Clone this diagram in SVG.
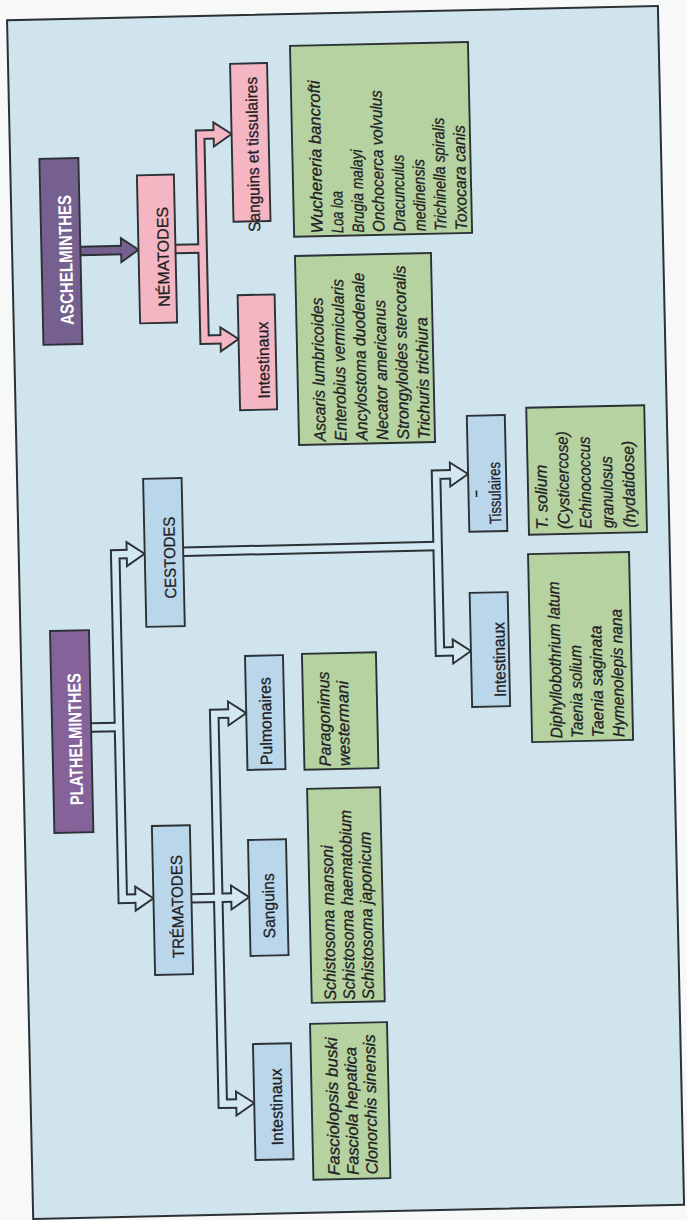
<svg xmlns="http://www.w3.org/2000/svg" width="687" height="1220" viewBox="0 0 687 1220">
<style>
.bx{stroke:#2b3134;stroke-width:1.9}
.pur1{fill:#76608f}.pur2{fill:#85639a}.pink{fill:#f4b6c3}.blue{fill:#bad6ea}.green{fill:#b6d2a1}
.t{font-family:"Liberation Sans",Arial,sans-serif;fill:#1f1f26;stroke:#1f1f26;stroke-width:0.3}
.h{font-size:16px;text-anchor:middle}
.hb{font-size:18.5px;font-weight:bold;fill:#ffffff;stroke:none;text-anchor:middle}
.l3{font-size:16.5px;text-anchor:middle}
.sp{font-size:16.5px;font-style:italic}
.po{fill:none;stroke:#2b3134;stroke-width:10.5;stroke-linejoin:miter}
.pib{fill:none;stroke:#d4e8f2;stroke-width:6.5;stroke-linejoin:miter}
.pip{fill:none;stroke:#f4b6c3;stroke-width:6.5;stroke-linejoin:miter}
.piv{fill:none;stroke:#76608f;stroke-width:6.5}
.hd{stroke:#2b3134;stroke-width:1.9;stroke-linejoin:miter}
.hdb{fill:#d4e8f2}
</style>
<rect x="0" y="0" width="687" height="1220" fill="#f7f8f8"/>
<g transform="rotate(-1.25 343 610)">
<rect id="frame" x="20" y="13" width="651" height="1199" fill="#d0e4ee" stroke="#2b3134" stroke-width="2"/>
<g id="connectors">
  <path class="po" d="M88.3 245.4 H132"/>
  <path class="po" d="M183.4 245.5 H210.5"/>
  <path class="po" d="M227 131.7 H210.5 V336.8 H229.5"/>
  <path class="po" d="M88.6 722 H116.5"/>
  <path class="po" d="M131 549.4 H116.5 V894 H132.2"/>
  <path class="po" d="M184.8 548.2 H439"/>
  <path class="po" d="M456 476.8 H439 V653.8 H455"/>
  <path class="po" d="M185.2 895 H228"/>
  <path class="po" d="M229 711 H212 V1101 H228.5"/>
  <polygon class="hd pur1" points="129,233.4 146.4,245.4 129,257.4"/>
  <polygon class="hd pink" points="224,119.7 242,131.7 224,143.7"/>
  <polygon class="hd pink" points="226.5,324.8 244.5,336.8 226.5,348.8"/>
  <polygon class="hd hdb" points="128,537.4 145.8,549.4 128,561.4"/>
  <polygon class="hd hdb" points="129.2,882 147.2,894 129.2,906"/>
  <polygon class="hd hdb" points="453,464.8 471,476.8 453,488.8"/>
  <polygon class="hd hdb" points="452,641.8 470,653.8 452,665.8"/>
  <polygon class="hd hdb" points="226,699 244,711 226,723"/>
  <polygon class="hd hdb" points="225,883 243,895 225,907"/>
  <polygon class="hd hdb" points="225.5,1089 243.5,1101 225.5,1113"/>
  <path class="piv" d="M88.3 245.4 H132"/>
  <path class="pip" d="M183.4 245.5 H210.5"/>
  <path class="pip" d="M227 131.7 H210.5 V336.8 H229.5"/>
  <path class="pib" d="M88.6 722 H116.5"/>
  <path class="pib" d="M131 549.4 H116.5 V894 H132.2"/>
  <path class="pib" d="M184.8 548.2 H439"/>
  <path class="pib" d="M456 476.8 H439 V653.8 H455"/>
  <path class="pib" d="M185.2 895 H228"/>
  <path class="pib" d="M229 711 H212 V1101 H228.5"/>
</g>
<g id="aschelminthes">
  <rect class="bx pur1" x="49.3" y="152.4" width="39" height="186"/>
  <text class="t hb" transform="translate(80,254) rotate(-90)" textLength="130" lengthAdjust="spacingAndGlyphs">ASCHELMINTHES</text>
</g>
<g id="nematodes">
  <rect class="bx pink" x="146.4" y="171" width="37" height="148"/>
  <text class="t h" transform="translate(176.5,253) rotate(-90)" textLength="100" lengthAdjust="spacingAndGlyphs">NÉMATODES</text>
</g>
<g id="nem-sanguins-tissulaires">
  <rect class="bx pink" x="242" y="61.5" width="37" height="158"/>
  <text class="t l3" transform="translate(268.5,152.6) rotate(-90)" textLength="155" lengthAdjust="spacingAndGlyphs">Sanguins et tissulaires</text>
</g>
<g id="nem-intestinaux">
  <rect class="bx pink" x="244.5" y="293" width="37" height="115"/>
  <text class="t l3" transform="translate(274.5,358.4) rotate(-90)" textLength="77" lengthAdjust="spacingAndGlyphs">Intestinaux</text>
</g>
<g id="nem-sang-species">
  <rect class="bx green" x="302.3" y="44.8" width="178" height="191"/>
  <text class="t sp" transform="translate(331,233) rotate(-90)" textLength="153" lengthAdjust="spacingAndGlyphs">Wuchereria bancrofti</text>
  <text class="t sp" transform="translate(351.6,233) rotate(-90)" textLength="42" lengthAdjust="spacingAndGlyphs">Loa loa</text>
  <text class="t sp" transform="translate(372.2,233) rotate(-90)" textLength="83" lengthAdjust="spacingAndGlyphs">Brugia malayi</text>
  <text class="t sp" transform="translate(392.8,233) rotate(-90)" textLength="142" lengthAdjust="spacingAndGlyphs">Onchocerca volvulus</text>
  <text class="t sp" transform="translate(413.4,233) rotate(-90)" textLength="77" lengthAdjust="spacingAndGlyphs">Dracunculus</text>
  <text class="t sp" transform="translate(434,233) rotate(-90)" textLength="72" lengthAdjust="spacingAndGlyphs">medinensis</text>
  <text class="t sp" transform="translate(454.6,233) rotate(-90)" textLength="113" lengthAdjust="spacingAndGlyphs">Trichinella spiralis</text>
  <text class="t sp" transform="translate(475.2,233) rotate(-90)" textLength="105" lengthAdjust="spacingAndGlyphs">Toxocara canis</text>
</g>
<g id="nem-int-species">
  <rect class="bx green" x="302.7" y="255" width="136" height="189"/>
  <text class="t sp" transform="translate(329.5,441) rotate(-90)" textLength="144" lengthAdjust="spacingAndGlyphs">Ascaris lumbricoides</text>
  <text class="t sp" transform="translate(350.3,441) rotate(-90)" textLength="162" lengthAdjust="spacingAndGlyphs">Enterobius vermicularis</text>
  <text class="t sp" transform="translate(371.1,441) rotate(-90)" textLength="168" lengthAdjust="spacingAndGlyphs">Ancylostoma duodenale</text>
  <text class="t sp" transform="translate(391.9,441) rotate(-90)" textLength="140" lengthAdjust="spacingAndGlyphs">Necator americanus</text>
  <text class="t sp" transform="translate(412.7,441) rotate(-90)" textLength="174" lengthAdjust="spacingAndGlyphs">Strongyloides stercoralis</text>
  <text class="t sp" transform="translate(433.5,441) rotate(-90)" textLength="122" lengthAdjust="spacingAndGlyphs">Trichuris trichiura</text>
</g>
<g id="plathelminthes">
  <rect class="bx pur2" x="49.6" y="624.6" width="39" height="202"/>
  <text class="t hb" transform="translate(79,733.3) rotate(-90)" textLength="132" lengthAdjust="spacingAndGlyphs">PLATHELMINTHES</text>
</g>
<g id="cestodes">
  <rect class="bx blue" x="146" y="474.6" width="38.5" height="148"/>
  <text class="t h" transform="translate(176.5,553.8) rotate(-90)" textLength="82" lengthAdjust="spacingAndGlyphs">CESTODES</text>
</g>
<g id="trematodes">
  <rect class="bx blue" x="147.2" y="821.8" width="38" height="149"/>
  <text class="t h" transform="translate(176.5,903) rotate(-90)" textLength="103" lengthAdjust="spacingAndGlyphs">TRÉMATODES</text>
</g>
<g id="cest-tissulaires">
  <rect class="bx blue" x="471" y="418.6" width="38" height="116"/>
  <line x1="479" y1="493.5" x2="479" y2="500" stroke="#1f1f26" stroke-width="1.6"/>
  <text class="t l3" transform="translate(503,496.4) rotate(-90)" textLength="62" lengthAdjust="spacingAndGlyphs">Tissulaires</text>
</g>
<g id="cest-intestinaux">
  <rect class="bx blue" x="470" y="595.7" width="38" height="114"/>
  <text class="t l3" transform="translate(504,663) rotate(-90)" textLength="75" lengthAdjust="spacingAndGlyphs">Intestinaux</text>
</g>
<g id="cest-tiss-species">
  <rect class="bx green" x="530.6" y="411.8" width="118" height="127"/>
  <text class="t sp" transform="translate(549.5,534) rotate(-90)" textLength="65" lengthAdjust="spacingAndGlyphs">T. solium</text>
  <text class="t sp" transform="translate(571.4,534) rotate(-90)" textLength="98" lengthAdjust="spacingAndGlyphs">(Cysticercose)</text>
  <text class="t sp" transform="translate(593.3,534) rotate(-90)" textLength="92" lengthAdjust="spacingAndGlyphs">Echinococcus</text>
  <text class="t sp" transform="translate(615.2,534) rotate(-90)" textLength="72" lengthAdjust="spacingAndGlyphs">granulosus</text>
  <text class="t sp" transform="translate(637.1,534) rotate(-90)" textLength="87" lengthAdjust="spacingAndGlyphs">(hydatidose)</text>
</g>
<g id="cest-int-species">
  <rect class="bx green" x="529.2" y="558.2" width="101" height="188"/>
  <text class="t sp" transform="translate(559.5,743) rotate(-90)" textLength="157" lengthAdjust="spacingAndGlyphs">Diphyllobothrium latum</text>
  <text class="t sp" transform="translate(580.2,743) rotate(-90)" textLength="93" lengthAdjust="spacingAndGlyphs">Taenia solium</text>
  <text class="t sp" transform="translate(600.9,743) rotate(-90)" textLength="112" lengthAdjust="spacingAndGlyphs">Taenia saginata</text>
  <text class="t sp" transform="translate(621.6,743) rotate(-90)" textLength="128" lengthAdjust="spacingAndGlyphs">Hymenolepis nana</text>
</g>
<g id="trem-pulmonaires">
  <rect class="bx blue" x="244" y="653.8" width="38" height="114"/>
  <text class="t l3" transform="translate(269,719.4) rotate(-90)" textLength="88" lengthAdjust="spacingAndGlyphs">Pulmonaires</text>
</g>
<g id="trem-sanguins">
  <rect class="bx blue" x="243" y="837.9" width="38" height="116"/>
  <text class="t l3" transform="translate(268,904.2) rotate(-90)" textLength="65" lengthAdjust="spacingAndGlyphs">Sanguins</text>
</g>
<g id="trem-intestinaux">
  <rect class="bx blue" x="243.5" y="1042" width="38" height="116"/>
  <text class="t l3" transform="translate(271.5,1105.4) rotate(-90)" textLength="77" lengthAdjust="spacingAndGlyphs">Intestinaux</text>
</g>
<g id="trem-pulm-species">
  <rect class="bx green" x="301" y="652.9" width="74" height="116"/>
  <text class="t sp" transform="translate(327.5,766) rotate(-90)" textLength="95" lengthAdjust="spacingAndGlyphs">Paragonimus</text>
  <text class="t sp" transform="translate(346.5,766) rotate(-90)" textLength="85" lengthAdjust="spacingAndGlyphs">westermani</text>
</g>
<g id="trem-sang-species">
  <rect class="bx green" x="303.2" y="788.1" width="73" height="214"/>
  <text class="t sp" transform="translate(327.5,1000) rotate(-90)" textLength="155" lengthAdjust="spacingAndGlyphs">Schistosoma mansoni</text>
  <text class="t sp" transform="translate(346.5,1000) rotate(-90)" textLength="190" lengthAdjust="spacingAndGlyphs">Schistosoma haematobium</text>
  <text class="t sp" transform="translate(365.5,1000) rotate(-90)" textLength="168" lengthAdjust="spacingAndGlyphs">Schistosoma japonicum</text>
</g>
<g id="trem-int-species">
  <rect class="bx green" x="301" y="1023" width="77" height="156"/>
  <text class="t sp" transform="translate(327.5,1175) rotate(-90)" textLength="138" lengthAdjust="spacingAndGlyphs">Fasciolopsis buski</text>
  <text class="t sp" transform="translate(346.5,1175) rotate(-90)" textLength="128" lengthAdjust="spacingAndGlyphs">Fasciola hepatica</text>
  <text class="t sp" transform="translate(365.5,1175) rotate(-90)" textLength="140" lengthAdjust="spacingAndGlyphs">Clonorchis sinensis</text>
</g>
</g>
</svg>
